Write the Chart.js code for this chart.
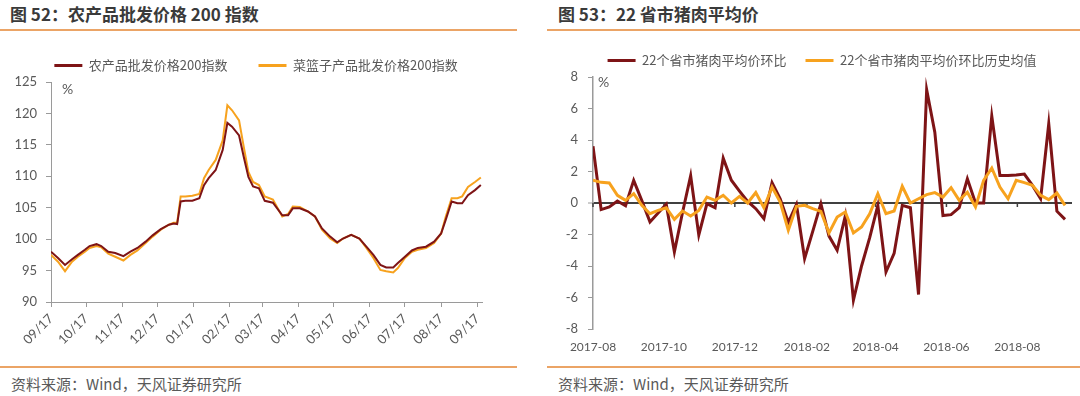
<!DOCTYPE html>
<html>
<head>
<meta charset="utf-8">
<script src="https://cdn.jsdelivr.net/npm/chart.js@4"></script>
<style>
  body { margin: 0; width: 1080px; height: 396px; background: #fff; position: relative; overflow: hidden; font-family: "Noto Sans CJK SC", sans-serif; }
  .title { position: absolute; top: 2px; line-height: 24px; font-size: 17px; font-weight: bold; color: #3a3a3a; white-space: nowrap; }
  .rule { position: absolute; height: 2px; background: #eba466; }
  .src { position: absolute; top: 374px; line-height: 20px; font-size: 15px; color: #595959; white-space: nowrap; }
  canvas { position: absolute; }
</style>
</head>
<body>
<div class="title" style="left:10px">图 52：农产品批发价格 200 指数</div>
<div class="rule" style="left:0;top:29px;width:517px"></div>
<div class="title" style="left:558px">图 53：22 省市猪肉平均价</div>
<div class="rule" style="left:547px;top:29px;width:533px"></div>

<canvas id="left" width="518" height="332" style="left:0;top:28px"></canvas>
<canvas id="right" width="532" height="327" style="left:548px;top:35px"></canvas>

<div class="rule" style="left:0;top:366px;width:517px"></div>
<div class="rule" style="left:547px;top:366px;width:533px"></div>
<div class="src" style="left:11px">资料来源：Wind，天风证券研究所</div>
<div class="src" style="left:558px">资料来源：Wind，天风证券研究所</div>

<script>
// ---- 图52 data ----
var leftDates = ['2017-09-01', '2017-09-07', '2017-09-13', '2017-09-19', '2017-09-24', '2017-09-30',
  '2017-10-04', '2017-10-10', '2017-10-14', '2017-10-20', '2017-10-26', '2017-11-02', '2017-11-08',
  '2017-11-14', '2017-11-21', '2017-11-27', '2017-12-04', '2017-12-11', '2017-12-15', '2017-12-18',
  '2017-12-21', '2017-12-25', '2017-12-31', '2018-01-06', '2018-01-10', '2018-01-14', '2018-01-20',
  '2018-01-26', '2018-01-30', '2018-02-03', '2018-02-09', '2018-02-13', '2018-02-17', '2018-02-21',
  '2018-02-26', '2018-03-03', '2018-03-10', '2018-03-18', '2018-03-23', '2018-03-27', '2018-04-02',
  '2018-04-09', '2018-04-15', '2018-04-21', '2018-04-28', '2018-05-04', '2018-05-09', '2018-05-16',
  '2018-05-23', '2018-05-29', '2018-06-04', '2018-06-10', '2018-06-15', '2018-06-21', '2018-06-25',
  '2018-07-01', '2018-07-07', '2018-07-12', '2018-07-19', '2018-07-26', '2018-08-01', '2018-08-05',
  '2018-08-10', '2018-08-15', '2018-08-19', '2018-08-24', '2018-08-30', '2018-09-04'];

var agriIndex = [98.0, 97.0, 95.9, 96.8, 97.5, 98.3,
  98.9, 99.2, 98.9, 98.0, 97.8, 97.3, 98.0,
  98.6, 99.6, 100.6, 101.6, 102.3, 102.5, 102.4,
  106.0, 106.1, 106.1, 106.5, 108.6, 109.7, 111.0,
  114.2, 118.5, 117.9, 116.5, 113.1, 109.9, 108.4,
  108.1, 106.1, 105.8, 103.8, 103.8, 104.9, 104.9,
  104.4, 103.6, 101.7, 100.4, 99.5, 100.1, 100.7,
  100.1, 98.8, 97.5, 95.9, 95.5, 95.5, 96.2,
  97.2, 98.2, 98.6, 98.8, 99.6, 100.9, 103.1,
  106.0, 105.7, 105.7, 107.0, 107.8, 108.6];

var basketIndex = [97.5, 96.4, 94.9, 96.4, 97.2, 98.0,
  98.6, 98.9, 98.7, 97.7, 97.2, 96.6, 97.5,
  98.2, 99.4, 100.4, 101.5, 102.3, 102.6, 102.6,
  106.8, 106.8, 106.9, 107.2, 109.7, 111.0, 112.6,
  115.7, 121.3, 120.5, 118.9, 114.7, 110.7, 109.1,
  108.6, 106.8, 106.3, 103.6, 104.0, 105.2, 105.1,
  104.4, 103.6, 101.5, 100.1, 99.4, 100.1, 100.7,
  100.1, 98.6, 97.0, 95.1, 94.9, 94.7, 95.4,
  97.0, 98.0, 98.3, 98.6, 99.4, 100.9, 103.6,
  106.5, 106.5, 106.8, 108.3, 109.1, 109.8];

var leftTickDates = ['2017-09-01', '2017-10-01', '2017-11-01', '2017-12-01', '2018-01-01', '2018-02-01',
  '2018-03-01', '2018-04-01', '2018-05-01', '2018-06-01', '2018-07-01', '2018-08-01', '2018-09-01'];
var leftTickLabels = ['09/17', '10/17', '11/17', '12/17', '01/17', '02/17', '03/17', '04/17', '05/17',
  '06/17', '07/17', '08/17', '09/17'];

// ---- 图53 data ----
var rightDates = ['2017-08-04', '2017-08-11', '2017-08-18', '2017-08-25', '2017-09-01', '2017-09-08',
  '2017-09-15', '2017-09-22', '2017-09-29', '2017-10-06', '2017-10-13', '2017-10-20', '2017-10-27',
  '2017-11-03', '2017-11-10', '2017-11-17', '2017-11-24', '2017-12-01', '2017-12-08', '2017-12-15',
  '2017-12-22', '2017-12-29', '2018-01-05', '2018-01-12', '2018-01-19', '2018-01-26', '2018-02-02',
  '2018-02-09', '2018-02-16', '2018-02-23', '2018-03-02', '2018-03-09', '2018-03-16', '2018-03-23',
  '2018-03-30', '2018-04-06', '2018-04-13', '2018-04-20', '2018-04-27', '2018-05-04', '2018-05-11',
  '2018-05-18', '2018-05-25', '2018-06-01', '2018-06-08', '2018-06-15', '2018-06-22', '2018-06-29',
  '2018-07-06', '2018-07-13', '2018-07-20', '2018-07-27', '2018-08-03', '2018-08-10', '2018-08-17',
  '2018-08-24', '2018-08-31', '2018-09-07', '2018-09-14'];

var porkMoM = [3.6, -0.42, -0.25, 0.13, -0.17, 1.44,
  0.15, -1.2, -0.63, -0.08, -3.1, -0.6, 1.73,
  -2.03, -0.04, -0.3, 2.85, 1.45, 0.76, 0.1,
  -0.36, -1.0, 1.29, 0.27, -1.23, -0.1, -3.53,
  -1.8, -0.04, -2.1, -3.0, -0.82, -6.17, -4.0,
  -2.2, -0.15, -4.38, -3.2, -0.15, -0.3, -5.81,
  7.19, 4.5, -0.8, -0.74, -0.3, 1.54, 0.0,
  0.0, 5.52, 1.75, 1.74, 1.78, 1.84, 1.12,
  0.27, 5.03, -0.52, -1.04];

var porkMoMHistAvg = [1.44, 1.31, 1.27, 0.49, 0.17, 0.59,
  -0.15, -0.68, -0.47, -0.3, -1.04, -0.51, -0.82,
  -0.47, 0.38, 0.17, 0.49, 0.0, 0.42, 0.0,
  0.66, -0.3, 1.01, 0.06, -1.73, -0.21, -0.15,
  -0.36, -0.53, -1.9, -0.89, -0.57, -1.9, -1.52,
  -0.68, 0.59, -0.68, -0.51, 1.06, 0.0, 0.27,
  0.53, 0.66, 0.38, 0.97, 0.17, 0.68, -0.25,
  1.44, 2.22, 1.01, 0.27, 1.44, 1.29, 1.12,
  0.49, 0.21, 0.63, -0.15];

var rightTickDates = ['2017-08-04', '2017-10-04', '2017-12-04', '2018-02-04', '2018-04-04', '2018-06-04', '2018-08-04'];
var rightTickLabels = ['2017-08', '2017-10', '2017-12', '2018-02', '2018-04', '2018-06', '2018-08'];

// ---- helpers ----
function dayFrom(start) {
  var t0 = Date.parse(start);
  return function (s) { return (Date.parse(s) - t0) / 86400000; };
}
function pairs(dates, values, toDay) {
  return values.map(function (v, i) { return { x: toDay(dates[i]), y: v }; });
}

var grey = '#595959';
var axisGrey = '#9a9a9a';
var darkRed = '#7e1416';
var orange = '#f7a21e';
var tickFont = { family: 'Lato', size: 13 };
var legendFont = { family: '"Noto Sans CJK SC"', size: 13 };

function flatLegend(chart) {
  return Chart.defaults.plugins.legend.labels.generateLabels(chart).map(function (l) {
    l.fillStyle = l.strokeStyle;
    l.lineWidth = 0;
    return l;
  });
}

// "%" unit drawn inside the plot area
var unitLabel = {
  id: 'unitLabel',
  afterDraw: function (chart, args, opts) {
    var ctx = chart.ctx, a = chart.chartArea;
    ctx.save();
    ctx.font = '14px Lato';
    ctx.fillStyle = grey;
    ctx.textBaseline = 'middle';
    ctx.fillText('%', a.left + opts.dx, a.top + opts.dy);
    ctx.restore();
  }
};

// legend is centred a bit right of the canvas middle in the original
var legendShift = {
  id: 'legendShift',
  afterLayout: function (chart, args, opts) {
    chart.legend.left += opts.dx;
    chart.legend.right += opts.dx;
  }
};

// small tick marks along the zero line
var zeroTicks = {
  id: 'zeroTicks',
  beforeDatasetsDraw: function (chart) {
    var x = chart.scales.x, y0 = chart.scales.y.getPixelForValue(0);
    var ctx = chart.ctx;
    ctx.save();
    ctx.strokeStyle = '#404040';
    ctx.lineWidth = 1.5;
    x.ticks.forEach(function (t) {
      var px = x.getPixelForValue(t.value);
      ctx.beginPath();
      ctx.moveTo(px, y0);
      ctx.lineTo(px, y0 + 4);
      ctx.stroke();
    });
    ctx.restore();
  }
};

// ---- 图52 chart ----
var leftDay = dayFrom('2017-09-01');

new Chart(document.getElementById('left'), {
  type: 'line',
  data: {
    datasets: [{
      label: '农产品批发价格200指数',
      data: pairs(leftDates, agriIndex, leftDay),
      borderColor: darkRed,
      backgroundColor: darkRed,
      borderWidth: 2
    }, {
      label: '菜篮子产品批发价格200指数',
      data: pairs(leftDates, basketIndex, leftDay),
      borderColor: orange,
      backgroundColor: orange,
      borderWidth: 2
    }]
  },
  options: {
    responsive: false,
    animation: false,
    layout: { padding: { left: 0, right: 36, top: 0, bottom: 0 } },
    elements: { point: { radius: 0 }, line: { tension: 0 } },
    plugins: {
      legend: {
        maxHeight: 54,
        labels: { boxWidth: 28, boxHeight: 3, padding: 31, font: legendFont, color: grey, generateLabels: flatLegend }
      },
      tooltip: { enabled: false },
      unitLabel: { dx: 11, dy: 7 },
      legendShift: { dx: 15 }
    },
    scales: {
      x: {
        type: 'linear',
        min: 0,
        max: leftDay('2018-09-05'),
        afterBuildTicks: function (s) { s.ticks = leftTickDates.map(function (d) { return { value: leftDay(d) }; }); },
        afterFit: function (s) { s.height = 58; },
        grid: { drawOnChartArea: false, tickLength: 5, color: axisGrey },
        border: { color: axisGrey },
        ticks: {
          autoSkip: false, minRotation: 45, maxRotation: 45, padding: 4,
          font: tickFont, color: grey,
          callback: function (v, i) { return leftTickLabels[i]; }
        }
      },
      y: {
        min: 90,
        max: 125,
        afterFit: function (s) { s.width = 51; },
        grid: { drawOnChartArea: false, tickLength: 5, color: axisGrey },
        border: { color: axisGrey },
        ticks: { stepSize: 5, padding: 9, font: tickFont, color: grey }
      }
    }
  },
  plugins: [unitLabel, legendShift]
});

// ---- 图53 chart ----
var rightDay = dayFrom('2017-08-04');

new Chart(document.getElementById('right'), {
  type: 'line',
  data: {
    datasets: [{
      label: '22个省市猪肉平均价环比',
      data: pairs(rightDates, porkMoM, rightDay),
      borderColor: darkRed,
      backgroundColor: darkRed,
      borderWidth: 3,
      order: 1
    }, {
      label: '22个省市猪肉平均价环比历史均值',
      data: pairs(rightDates, porkMoMHistAvg, rightDay),
      borderColor: orange,
      backgroundColor: orange,
      borderWidth: 3,
      order: 0
    }]
  },
  options: {
    responsive: false,
    animation: false,
    layout: { padding: { left: 12, right: 8, top: 0, bottom: 0 } },
    elements: { point: { radius: 0 }, line: { tension: 0 } },
    plugins: {
      legend: {
        labels: {
          boxWidth: 28, boxHeight: 3, padding: 19, font: legendFont, color: grey, generateLabels: flatLegend,
          sort: function (a, b) { return a.datasetIndex - b.datasetIndex; }
        }
      },
      tooltip: { enabled: false },
      unitLabel: { dx: 5, dy: 5 },
      legendShift: { dx: 6 }
    },
    scales: {
      x: {
        type: 'linear',
        min: 0,
        max: rightDay('2018-09-20'),
        afterBuildTicks: function (s) { s.ticks = rightTickDates.map(function (d) { return { value: rightDay(d) }; }); },
        afterFit: function (s) { s.height = 33; },
        grid: { display: false },
        border: { display: false },
        ticks: {
          autoSkip: false, maxRotation: 0, padding: 3,
          font: { family: 'Lato', size: 12 }, color: grey,
          callback: function (v, i) { return rightTickLabels[i]; }
        }
      },
      y: {
        min: -8,
        max: 8,
        afterFit: function (s) { s.width = 33; },
        grid: {
          tickLength: 5,
          color: function (c) { return c.tick && c.tick.value === 0 ? '#404040' : 'rgba(0,0,0,0)'; },
          lineWidth: function (c) { return c.tick && c.tick.value === 0 ? 2 : 1; },
          tickColor: axisGrey,
          tickWidth: 1
        },
        border: { color: axisGrey, width: 1.5 },
        ticks: { stepSize: 2, padding: 10, font: tickFont, color: grey }
      }
    }
  },
  plugins: [unitLabel, legendShift, zeroTicks]
});
</script>
</body>
</html>
